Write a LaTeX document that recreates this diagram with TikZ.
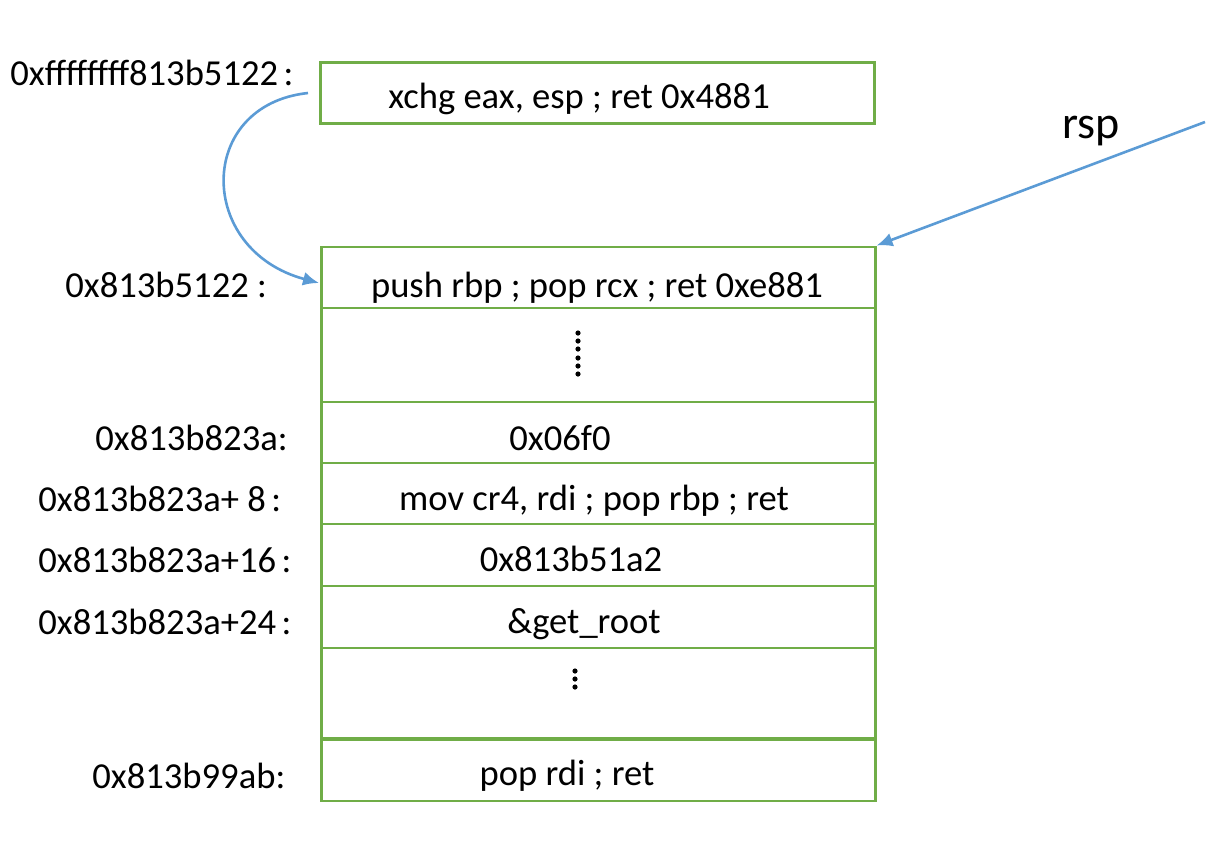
\documentclass[tikz,border=0pt]{standalone}
\usepackage{fontspec}
\setmainfont{Carlito}
\usetikzlibrary{arrows.meta}
\definecolor{boxgreen}{RGB}{112,173,71}
\definecolor{arrblue}{RGB}{91,155,213}
\newcommand{\fwc}{\hspace{0.15em}:}
\tikzset{
  cell/.style={draw=boxgreen, line width=1.3pt, minimum width=277pt, inner sep=0pt, anchor=north west},
  txt/.style={anchor=base, inner sep=0pt, font=\fontsize{18.3}{20}\selectfont},
  lbl/.style={anchor=base west, inner sep=0pt, font=\fontsize{18.3}{20}\selectfont},
  link/.style={draw=arrblue, line width=1.3pt, -{Latex[length=8pt,width=7pt]}},
  dot/.style={circle, fill=black, inner sep=0pt, minimum size=2.6pt}
}
\begin{document}
\begin{tikzpicture}[x=0.5pt,y=-0.5pt]
\useasboundingbox (0,0) rectangle (1226,864);
% boxes
\node[cell, minimum height=30.5pt] (top) at (319,61) {};
\node[cell, minimum height=30.5pt] (push) at (320,245.5) {};
\node[cell, minimum height=47pt] (dots) at (320,306.5) {};
\node[cell, minimum height=30.5pt] (c06) at (320,400.5) {};
\node[cell, minimum height=30.5pt] (mov) at (320,461.5) {};
\node[cell, minimum height=31pt] (c51) at (320,522.5) {};
\node[cell, minimum height=31pt] (getr) at (320,584.5) {};
\node[cell, minimum height=45pt] (dots2) at (320,646.5) {};
\node[cell, minimum height=30.5pt] (popr) at (320,738.5) {};
% box texts
\node[txt] (ttop) at (579,108) {xchg eax, esp ; ret 0x4881};
\node[txt] (tpush) at (597,297) {push rbp ; pop rcx ; ret 0xe881};
\node[txt] (t06) at (560,450) {0x06f0};
\node[txt] (tmov) at (594,510) {mov cr4, rdi ; pop rbp ; ret};
\node[txt] (t51) at (571,571) {0x813b51a2};
\node[txt] (tget) at (584,633) {\&get\_root};
\node[txt] (tpop) at (567,785) {pop rdi ; ret};
% dots
\foreach \yy in {333,341,349,358,366,374} \node[dot] at (578,\yy) {};
\foreach \yy in {671,679,687} \node[dot] at (575,\yy) {};
% labels
\node[lbl] (l1) at (10,85) {0xffffffff813b5122\fwc};
\node[lbl] (l2) at (65,297) {0x813b5122 :};
\node[lbl] (l3) at (95,450) {0x813b823a:};
\node[lbl] (l4) at (38,511) {0x813b823a+ 8\fwc};
\node[lbl] (l5) at (38,572) {0x813b823a+16\fwc};
\node[lbl] (l6) at (38,634) {0x813b823a+24\fwc};
\node[lbl] (l7) at (92,788) {0x813b99ab:};
\node[lbl, font=\fontsize{23}{26}\selectfont] (rsp) at (1062,138) {rsp};
% arrows
\coordinate (rspstart) at (1205,122);
\draw[link] (rspstart) -- (push.north east);
\coordinate (cstart) at (308,93);
\coordinate (cend) at (319,283);
\draw[link] (cstart) .. controls (196,105) and (196,250) .. (cend);
\end{tikzpicture}
\end{document}
